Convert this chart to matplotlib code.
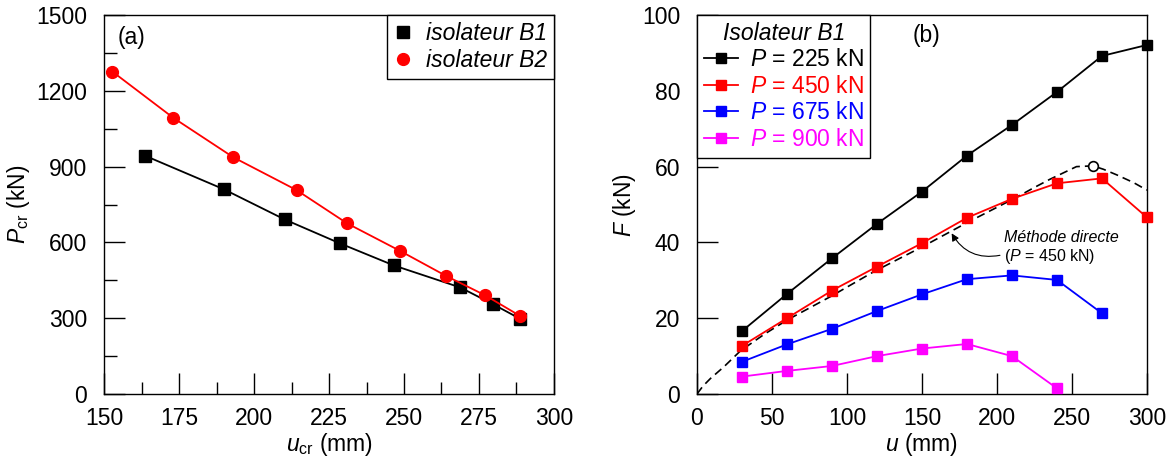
import numpy as np
import matplotlib
matplotlib.use("Agg")
import matplotlib.pyplot as plt
from matplotlib.ticker import MultipleLocator

plt.rcParams['font.family'] = ['Liberation Sans', 'DejaVu Sans']
plt.rcParams['mathtext.fontset'] = 'custom'
plt.rcParams['mathtext.rm'] = 'Liberation Sans'
plt.rcParams['mathtext.it'] = 'Liberation Sans:italic'

### (a) charge critique vs deplacement critique ###
u_cr_B1 = [163.7, 190.0, 210.2, 228.7, 246.6, 268.7, 279.6, 288.8]
P_cr_B1 = [943, 810, 691, 596, 509, 422, 356, 297]
u_cr_B2 = [152.8, 173.0, 193.1, 214.2, 231.1, 248.6, 264.1, 277.0, 288.7]
P_cr_B2 = [1276, 1094, 937, 807, 675, 567, 467, 391, 309]

### (b) courbes force-deplacement, isolateur B1 ###
u = [30, 60, 90, 120, 150, 180, 210, 240, 270, 300]
F_225 = [16.6, 26.4, 35.8, 44.9, 53.4, 62.9, 71.0, 79.7, 89.2, 92.1]
F_450 = [12.7, 20.0, 27.3, 33.6, 39.8, 46.5, 51.5, 55.6, 56.9, 46.6]
F_675 = [8.5, 13.1, 17.2, 21.9, 26.3, 30.3, 31.3, 30.1, 21.3]
F_900 = [4.6, 6.1, 7.4, 10.0, 12.0, 13.2, 10.0, 1.5]

# methode directe, P = 450 kN
u_dir = [0, 4, 9, 18, 29, 45, 60, 89, 118, 150, 180, 213, 224, 235, 253, 264, 271, 280, 291, 300]
F_dir = [0, 2.1, 4.1, 7.2, 11.4, 15.8, 19.5, 25.7, 32.3, 38.8, 45.2, 51.9, 54.3, 56.6, 60.0, 60.2, 59.3, 57.8, 55.8, 53.8]
u_max, F_max = 264, 60.2

fig = plt.figure(figsize=(11.7, 4.61), dpi=100)
ax1 = fig.add_axes([0.0889, 0.1453, 0.3846, 0.8221])
ax2 = fig.add_axes([0.5957, 0.1453, 0.3846, 0.8221])

fs = 16.5
fl = 16.5

# --- (a) ---
ax1.plot(u_cr_B1, P_cr_B1, 'k-', lw=1.3, marker='s', ms=8.5, zorder=3)
ax1.plot(u_cr_B2, P_cr_B2, '-', color='red', lw=1.3, marker='o', ms=8.5, zorder=4)
ax1.plot([], [], 'ks', ms=8.5, ls='none', label='isolateur B1')
ax1.plot([], [], 'o', color='red', ms=8.5, ls='none', label='isolateur B2')
ax1.set_xlim(150, 300)
ax1.set_ylim(0, 1500)
ax1.xaxis.set_major_locator(MultipleLocator(25))
ax1.xaxis.set_minor_locator(MultipleLocator(12.5))
ax1.yaxis.set_major_locator(MultipleLocator(300))
ax1.yaxis.set_minor_locator(MultipleLocator(150))
ax1.set_xlabel(r'$u_{\mathrm{cr}}$ (mm)', fontsize=fs, labelpad=1)
ax1.set_ylabel(r'$P_{\mathrm{cr}}$ (kN)', fontsize=fs, labelpad=3)
ax1.text(0.03, 0.94, '(a)', transform=ax1.transAxes, fontsize=fs, va='center')
leg1 = ax1.legend(loc='upper right', borderaxespad=0, fancybox=False,
                  edgecolor='k', framealpha=1, handlelength=0.8, handletextpad=0.6,
                  prop={'style': 'italic', 'size': fl}, borderpad=0.3, labelspacing=0.2)
leg1.get_frame().set_linewidth(1.0)

# --- (b) ---
series = [(F_225, 'black', '225'), (F_450, 'red', '450'),
          (F_675, 'blue', '675'), (F_900, 'magenta', '900')]
for F, c, p in series:
    ax2.plot(u[:len(F)], F, '-', color=c, lw=1.3, marker='s', ms=7.5,
             clip_on=False, zorder=3, label=r'$P$ = ' + p + ' kN')
ax2.plot(u_dir, F_dir, '--', color='k', lw=1.2, dashes=(5, 3), zorder=2)
ax2.plot(u_max, F_max, 'o', mfc='white', mec='k', mew=1.2, ms=7, zorder=4)
ax2.annotate('', xy=(169.8, 42.4), xytext=(202, 36.6),
             arrowprops=dict(arrowstyle='-|>', color='k', lw=0.8,
                             connectionstyle='arc3,rad=-0.35',
                             shrinkA=0, shrinkB=0, mutation_scale=11))
ax2.text(205, 41.4, 'Méthode directe', fontsize=11.5, style='italic', va='center')
ax2.text(205, 36.3, r'($P$ = 450 kN)', fontsize=11.5, va='center')
ax2.set_xlim(0, 300)
ax2.set_ylim(0, 100)
ax2.xaxis.set_major_locator(MultipleLocator(50))
ax2.yaxis.set_major_locator(MultipleLocator(20))
ax2.set_xlabel(r'$u$ (mm)', fontsize=fs, labelpad=1)
ax2.set_ylabel(r'$F$ (kN)', fontsize=fs, labelpad=3)
ax2.text(0.48, 0.947, '(b)', transform=ax2.transAxes, fontsize=fs, va='center')
leg2 = ax2.legend(loc='upper left', borderaxespad=0, fancybox=False,
                  edgecolor='k', framealpha=1, handlelength=1.5, handletextpad=0.5,
                  fontsize=fl, title='Isolateur B1', borderpad=0.3,
                  labelspacing=0.15, markerscale=0.9)
leg2.get_title().set_fontsize(fl)
leg2.get_title().set_style('italic')
leg2.get_frame().set_linewidth(1.0)
for txt, (_, c, _) in zip(leg2.get_texts(), series):
    txt.set_color(c)

for ax in (ax1, ax2):
    ax.tick_params(which='major', direction='in', length=15, width=1.0,
                   labelsize=fs, top=False, right=False)
    ax.tick_params(which='minor', direction='in', length=9, width=1.0,
                   top=False, right=False)
    ax.tick_params(axis='x', which='major', pad=9)
    ax.tick_params(axis='y', which='major', pad=12)
    for s in ax.spines.values():
        s.set_linewidth(1.0)

fig.savefig('out.png', dpi=100)
